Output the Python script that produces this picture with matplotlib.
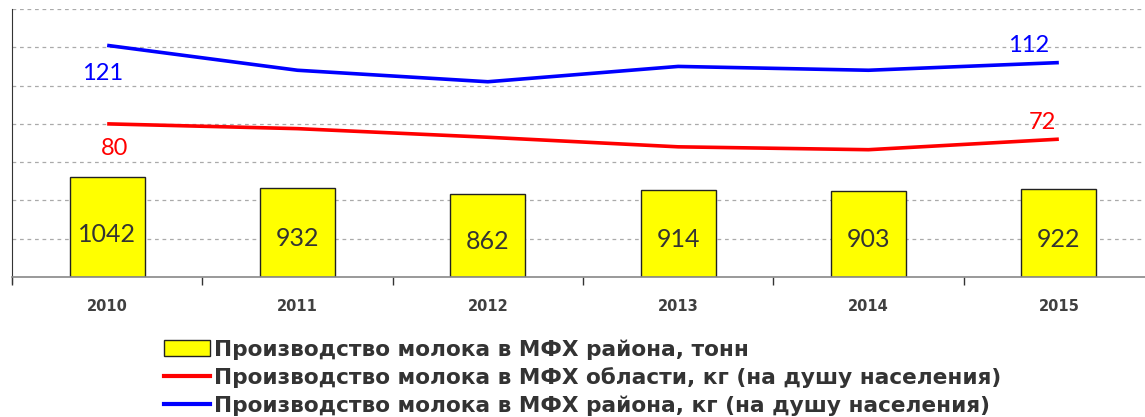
import matplotlib
matplotlib.use("Agg")
import matplotlib.pyplot as plt
from matplotlib.patches import Patch
from matplotlib.lines import Line2D

years = ["2010", "2011", "2012", "2013", "2014", "2015"]
milk_district_tonnes = [1042, 932, 862, 914, 903, 922]
milk_region_kg = [80, 77.5, 73, 68, 66.5, 72]
milk_district_kg = [121, 108, 102, 110, 108, 112]

legend_labels = [
    "Производство молока в МФХ района, тонн",
    "Производство молока в МФХ области, кг (на душу населения)",
    "Производство молока в МФХ района, кг (на душу населения)",
]

W, H = 1145, 417
fig = plt.figure(figsize=(W / 100, H / 100), dpi=100)
ax = fig.add_axes([12 / W, (H - 277) / H, (1154 - 12) / W, 268 / H])
x = list(range(len(years)))

# bars (primary axis)
ax.set_ylim(0, 2800)
ax.set_xlim(-0.5, len(years) - 0.5)
ax.set_yticks(range(400, 2801, 400))
ax.yaxis.grid(True, linestyle=(0, (3, 3)), color="#aaaaaa", linewidth=0.9)
ax.set_axisbelow(True)
ax.bar(x, milk_district_tonnes, width=0.395, color="#FFFF00",
       edgecolor="#222222", linewidth=1.0, zorder=2)
for xi, v in zip(x, milk_district_tonnes):
    ax.text(xi, v * 0.43, str(v), ha="center", va="center",
            fontsize=18, family="Lato", color="#333333", zorder=3)

ax.tick_params(axis="y", which="both", left=False, right=False,
               labelleft=False, length=0)
ax.set_xticks([i + 0.5 for i in range(-1, len(years))], minor=False)
ax.set_xticklabels([])
ax.set_xticks(x, minor=True)
ax.set_xticklabels(years, minor=True)
ax.tick_params(axis="x", which="major", length=6, width=1, color="#333333", direction="out")
ax.tick_params(axis="x", which="minor", length=0, pad=16, labelsize=10.5,
               labelcolor="#404040")
for lbl in ax.get_xticklabels(minor=True):
    lbl.set_fontweight("bold")
for s in ["top", "right"]:
    ax.spines[s].set_visible(False)
ax.spines["bottom"].set_color("#888888")
ax.spines["bottom"].set_linewidth(1.2)
ax.spines["left"].set_color("#333333")
ax.spines["left"].set_bounds(-60, 2800)

# lines (secondary axis)
ax2 = ax.twinx()
ax2.set_ylim(0, 140)
ax2.axis("off")
ax2.plot(x, milk_region_kg, color="#FF0000", linewidth=2.6, solid_capstyle="butt")
ax2.plot(x, milk_district_kg, color="#0000FF", linewidth=2.6, solid_capstyle="butt")

ax2.annotate(str(milk_district_kg[0]), (x[0], milk_district_kg[0]), xytext=(-3, -20),
             textcoords="offset points", ha="center", va="center",
             fontsize=17, family="Lato", color="#0000FF")
ax2.annotate(str(int(milk_region_kg[0])), (x[0], milk_region_kg[0]), xytext=(5, -18),
             textcoords="offset points", ha="center", va="center",
             fontsize=17, family="Lato", color="#FF0000")
ax2.annotate(str(milk_district_kg[-1]), (x[-1], milk_district_kg[-1]), xytext=(-22, 12),
             textcoords="offset points", ha="center", va="center",
             fontsize=17, family="Lato", color="#0000FF")
ax2.annotate(str(int(milk_region_kg[-1])), (x[-1], milk_region_kg[-1]), xytext=(-12, 12),
             textcoords="offset points", ha="center", va="center",
             fontsize=17, family="Lato", color="#FF0000")

handles = [
    Patch(facecolor="#FFFF00", edgecolor="#222222", linewidth=1.0),
    Line2D([], [], color="#FF0000", linewidth=3),
    Line2D([], [], color="#0000FF", linewidth=3),
]
leg = fig.legend(handles, legend_labels, loc="upper left",
                 bbox_to_anchor=(164 / W, 1 - 339 / H), frameon=False,
                 prop={"family": "DejaVu Sans", "weight": "bold", "size": 15.6},
                 handlelength=2.1, handleheight=0.8, handletextpad=0.2,
                 labelspacing=0.35, borderpad=0, borderaxespad=0)
for t in leg.get_texts():
    t.set_color("#333333")

fig.savefig("out.png", dpi=100)
